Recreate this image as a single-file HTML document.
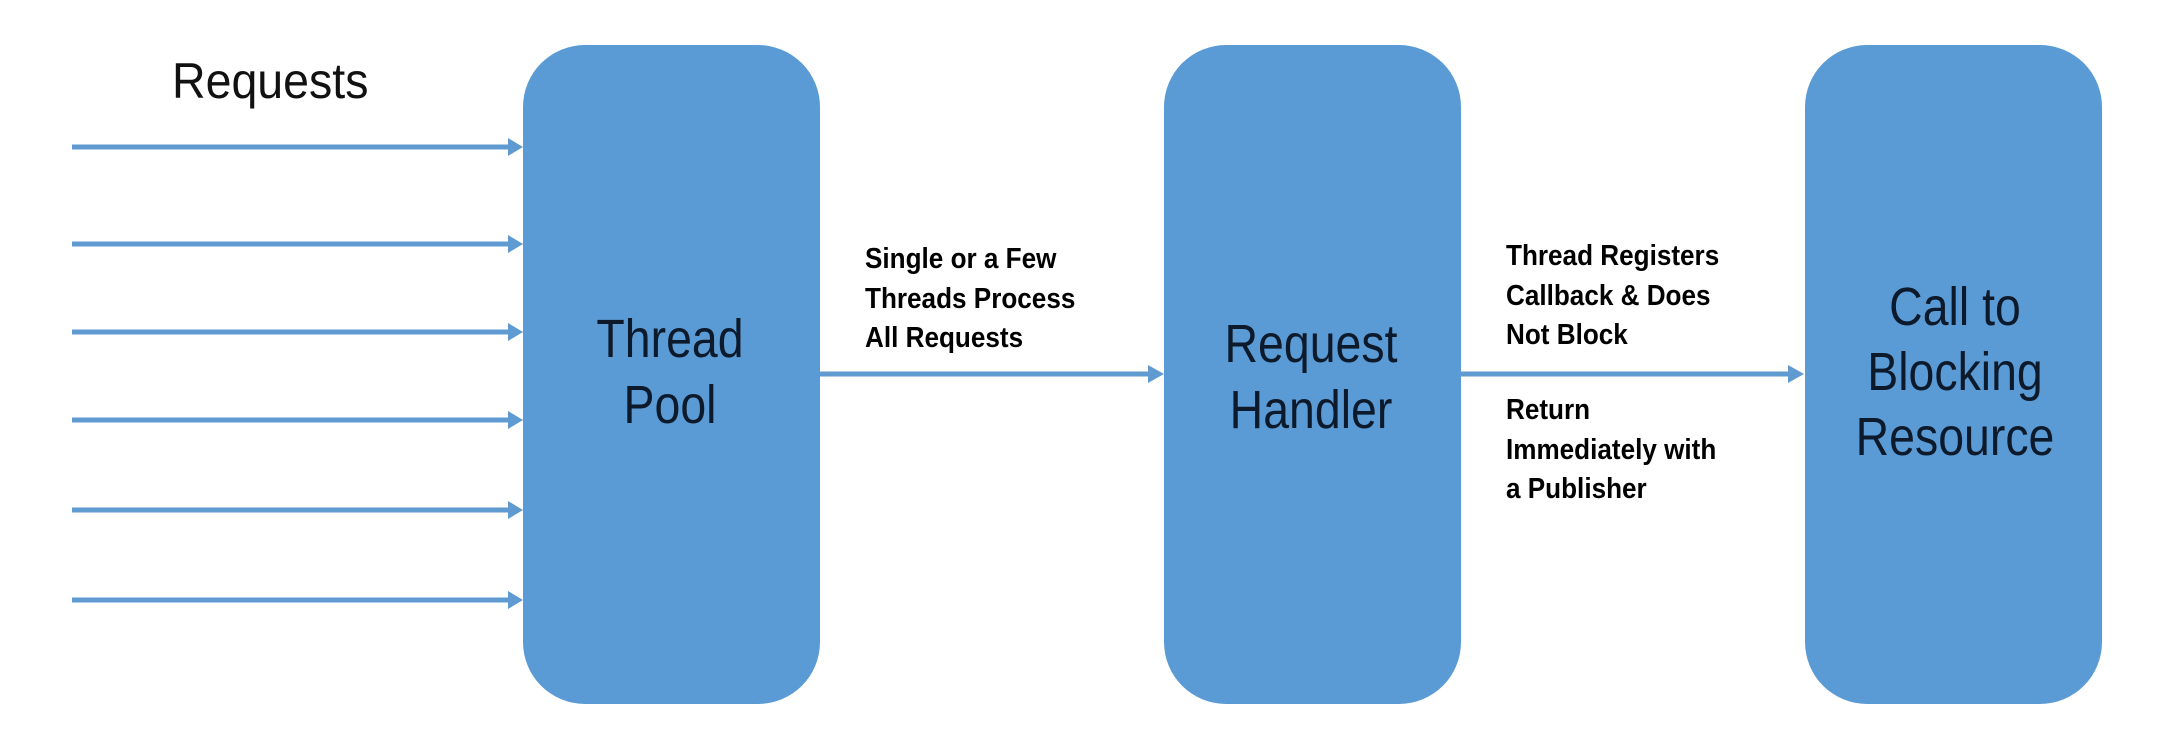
<!DOCTYPE html>
<html><head><meta charset="utf-8"><style>
html,body{margin:0;padding:0;background:#fff;}
body{width:2158px;height:742px;position:relative;overflow:hidden;font-family:"Liberation Sans",sans-serif;}
.box{position:absolute;top:45px;height:659px;width:297px;background:#5b9bd5;border-radius:62px;}
.big{position:absolute;font-size:54px;color:#0d1a2b;text-align:center;line-height:66px;transform:scaleX(0.86);}
.lbl{position:absolute;font-size:29px;font-weight:bold;color:#000;line-height:39.5px;white-space:nowrap;transform:scaleX(0.9);transform-origin:left top;}
</style></head><body>
<svg width="2158" height="742" style="position:absolute;left:0;top:0">
<g stroke="#5f9ad0" stroke-width="5" fill="#5f9ad0">
<line x1="72" y1="147" x2="510" y2="147"/><polygon points="508,138 523,147 508,156" stroke="none"/>
<line x1="72" y1="244" x2="510" y2="244"/><polygon points="508,235 523,244 508,253" stroke="none"/>
<line x1="72" y1="332" x2="510" y2="332"/><polygon points="508,323 523,332 508,341" stroke="none"/>
<line x1="72" y1="420" x2="510" y2="420"/><polygon points="508,411 523,420 508,429" stroke="none"/>
<line x1="72" y1="510" x2="510" y2="510"/><polygon points="508,501 523,510 508,519" stroke="none"/>
<line x1="72" y1="600" x2="510" y2="600"/><polygon points="508,591 523,600 508,609" stroke="none"/>
<line x1="820" y1="374" x2="1150" y2="374"/><polygon points="1148,365 1164,374 1148,383" stroke="none"/>
<line x1="1461" y1="374" x2="1790" y2="374"/><polygon points="1788,365 1804,374 1788,383" stroke="none"/>
</g></svg>
<div style="position:absolute;left:172px;top:52px;font-size:50px;color:#111;transform:scaleX(0.93);transform-origin:left top;">Requests</div>
<div class="box" style="left:523px"></div>
<div class="box" style="left:1164px"></div>
<div class="box" style="left:1805px"></div>
<div class="big" style="left:520px;width:300px;top:306px">Thread<br>Pool</div>
<div class="big" style="left:1161px;width:300px;top:311px">Request<br>Handler</div>
<div class="big" style="left:1805px;width:300px;top:275px;line-height:65px">Call to<br>Blocking<br>Resource</div>
<div class="lbl" style="left:865px;top:240px">Single or a Few<br>Threads Process<br>All Requests</div>
<div class="lbl" style="left:1506px;top:237px">Thread Registers<br>Callback &amp; Does<br>Not Block</div>
<div class="lbl" style="left:1506px;top:391px">Return<br>Immediately with<br>a Publisher</div>
</body></html>
